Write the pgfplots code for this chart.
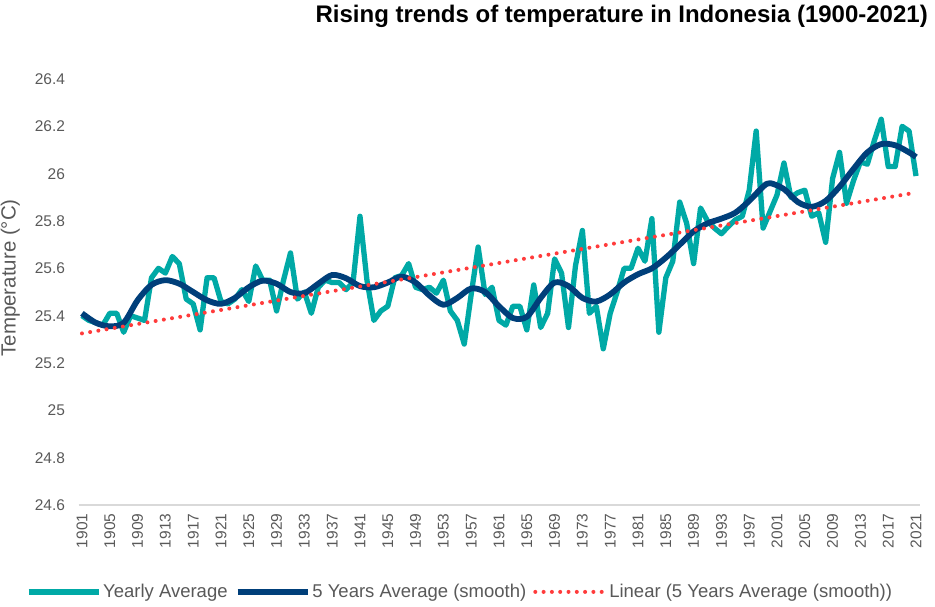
\documentclass[border=0pt]{standalone}
\usepackage{pgfplots}
\pgfplotsset{compat=1.18}
\usepackage{fontspec}
\setmainfont{Liberation Sans}
\definecolor{tealA}{HTML}{00A9A6}
\definecolor{navyA}{HTML}{003F7A}
\definecolor{redA}{HTML}{FF3B3B}
\definecolor{tickgray}{HTML}{595959}
\definecolor{axisgray}{HTML}{D9D9D9}

\pgfplotstableread{
year val
1901 25.40
1902 25.38
1903 25.37
1904 25.36
1905 25.41
1906 25.41
1907 25.33
1908 25.40
1909 25.39
1910 25.38
1911 25.56
1912 25.60
1913 25.58
1914 25.65
1915 25.62
1916 25.47
1917 25.45
1918 25.34
1919 25.56
1920 25.56
1921 25.46
1922 25.45
1923 25.47
1924 25.51
1925 25.46
1926 25.61
1927 25.55
1928 25.55
1929 25.42
1930 25.55
1931 25.665
1932 25.47
1933 25.50
1934 25.41
1935 25.52
1936 25.55
1937 25.54
1938 25.54
1939 25.51
1940 25.54
1941 25.82
1942 25.55
1943 25.38
1944 25.42
1945 25.44
1946 25.56
1947 25.57
1948 25.62
1949 25.52
1950 25.51
1951 25.52
1952 25.495
1953 25.55
1954 25.42
1955 25.38
1956 25.28
1957 25.49
1958 25.69
1959 25.49
1960 25.52
1961 25.38
1962 25.36
1963 25.44
1964 25.44
1965 25.34
1966 25.53
1967 25.35
1968 25.41
1969 25.64
1970 25.58
1971 25.35
1972 25.61
1973 25.76
1974 25.41
1975 25.44
1976 25.26
1977 25.41
1978 25.50
1979 25.60
1980 25.60
1981 25.685
1982 25.63
1983 25.81
1984 25.33
1985 25.56
1986 25.63
1987 25.88
1988 25.79
1989 25.62
1990 25.855
1991 25.80
1992 25.77
1993 25.746
1994 25.777
1995 25.805
1996 25.82
1997 25.93
1998 26.18
1999 25.77
2000 25.84
2001 25.91
2002 26.045
2003 25.90
2004 25.92
2005 25.93
2006 25.82
2007 25.835
2008 25.71
2009 25.98
2010 26.09
2011 25.875
2012 25.97
2013 26.05
2014 26.04
2015 26.14
2016 26.23
2017 26.03
2018 26.03
2019 26.20
2020 26.18
2021 25.99
}\yearly

\pgfplotstableread{
year val
1901 25.41
1903 25.37
1905 25.355
1907 25.37
1909 25.465
1911 25.53
1913 25.55
1915 25.535
1917 25.50
1919 25.465
1921 25.45
1923 25.475
1925 25.52
1927 25.548
1929 25.535
1931 25.50
1933 25.495
1935 25.535
1937 25.572
1939 25.558
1941 25.525
1943 25.52
1945 25.54
1947 25.565
1949 25.54
1951 25.485
1953 25.446
1955 25.475
1957 25.515
1959 25.50
1961 25.44
1963 25.39
1965 25.395
1967 25.475
1969 25.54
1971 25.525
1973 25.475
1975 25.46
1977 25.49
1979 25.54
1981 25.575
1983 25.60
1985 25.645
1987 25.70
1989 25.756
1991 25.79
1993 25.81
1995 25.835
1997 25.885
1999 25.945
2000 25.96
2002 25.935
2004 25.88
2006 25.86
2008 25.885
2010 25.945
2012 26.02
2014 26.09
2016 26.125
2018 26.12
2020 26.09
2021 26.07
}\fiveyr

\begin{document}
\begin{tikzpicture}[x=1pt,y=1pt]
\path[use as bounding box] (0,0) rectangle (935,606);
\begin{axis}[
  at={(78.5pt,101pt)}, anchor=south west,
  width=841pt, height=426pt, scale only axis,
  xmin=1900.5, xmax=2021.5, ymin=24.6, ymax=26.4,
  xtick={1901,1905,...,2021},
  ytick={24.6,24.8,25,25.2,25.4,25.6,25.8,26,26.2,26.4},
  axis x line*=bottom, axis y line*=left,
  y axis line style={draw=none},
  x axis line style={draw=axisgray, line width=1.2pt},
  major tick length=0pt, tick style={draw=none},
  /pgf/number format/assume math mode=true,
  tick label style={font=\fontsize{15.5}{18}\selectfont, text=tickgray},
  xticklabel style={rotate=90, anchor=east, /pgf/number format/1000 sep={}, xshift=-5pt},
  yticklabel style={xshift=-10pt},
  ylabel={Temperature (°C)},
  ylabel style={at={(axis description cs:-0.081,0.533)}, anchor=center, font=\fontsize{20.5}{23}\selectfont, text=tickgray},
  title={Rising trends of temperature in Indonesia (1900-2021)},
  title style={at={(axis description cs:1.0101,1.1338)}, anchor=east, inner sep=0pt, font=\fontsize{24}{28}\selectfont\bfseries},
  legend columns=3,
  legend style={draw=none, at={(0.4536,-0.204)}, anchor=center,
    font=\fontsize{18.5}{21}\selectfont, text=tickgray,
    /tikz/every even column/.append style={column sep=5pt}},
  legend image code/.code={\draw[#1] (0pt,0pt) -- (70pt,0pt);},
]
\addplot[tealA, line width=5.3pt, line join=round] table[x=year,y=val] {\yearly};
\addlegendentry{Yearly Average}
\addplot[navyA, line width=5.8pt, smooth, tension=0.5, line join=round] table[x=year,y=val] {\fiveyr};
\addlegendentry{5 Years Average (smooth)}
\addplot[redA, line width=4pt, line cap=round, dash pattern=on 0pt off 8.3pt] coordinates {(1901,25.325) (2021,25.92)};
\addlegendentry{Linear (5 Years Average (smooth))}
\end{axis}
\end{tikzpicture}
\end{document}
